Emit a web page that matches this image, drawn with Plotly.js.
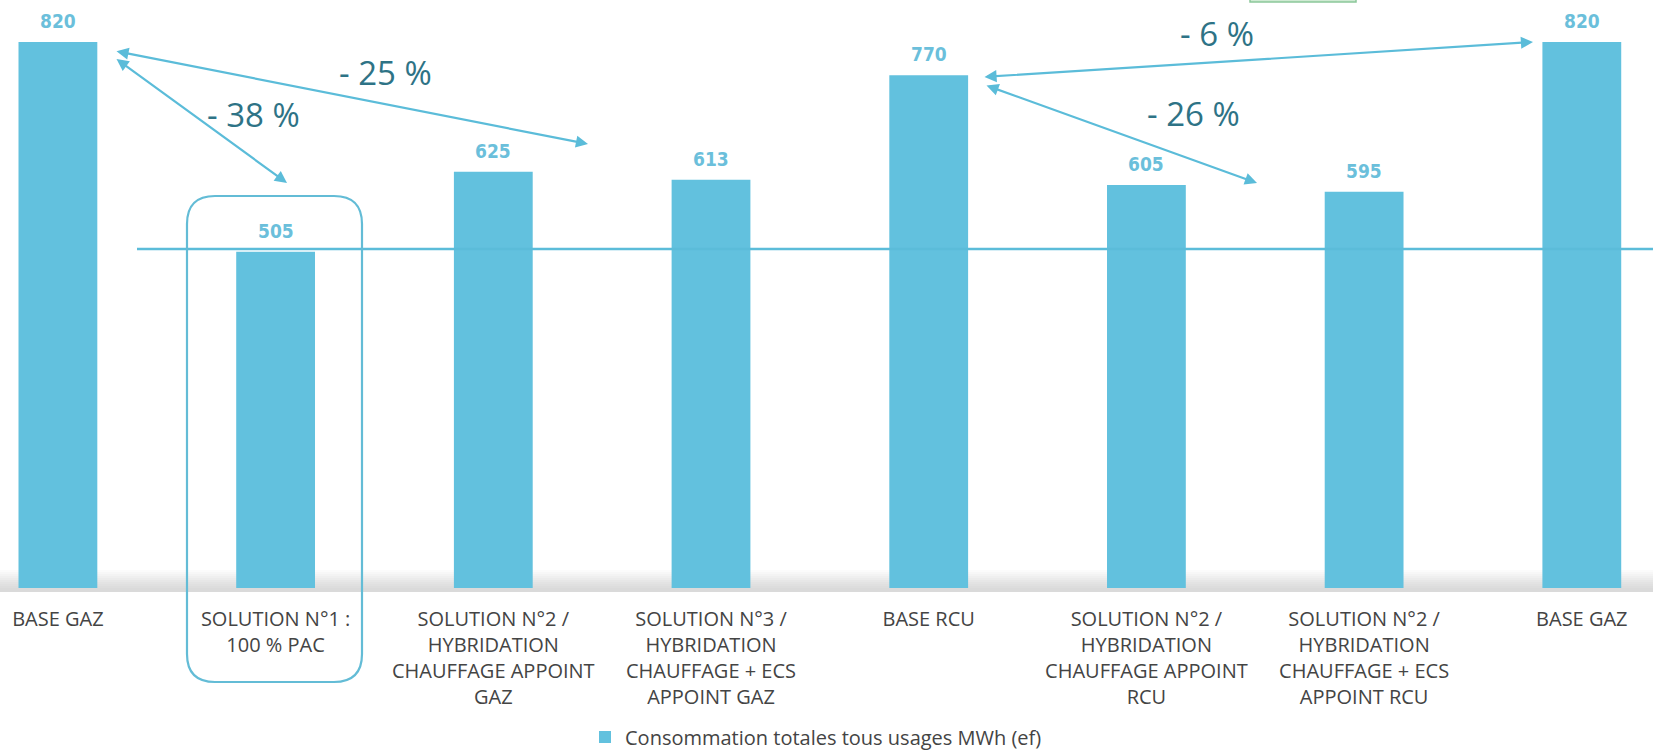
<!DOCTYPE html>
<html>
<head>
<meta charset="utf-8">
<script src="https://cdn.plot.ly/plotly-3.0.1.min.js"></script>
<style>html,body{margin:0;padding:0;background:#fff;}#chart{width:1653px;height:750px;}</style>
</head>
<body>
<div id="chart"></div>
<script>
// ---- data ----
const categories = [
  "BASE GAZ",
  "SOLUTION N°1 :<br>100 % PAC",
  "SOLUTION N°2 /<br>HYBRIDATION<br>CHAUFFAGE APPOINT<br>GAZ",
  "SOLUTION N°3 /<br>HYBRIDATION<br>CHAUFFAGE + ECS<br>APPOINT GAZ",
  "BASE RCU",
  "SOLUTION N°2 /<br>HYBRIDATION<br>CHAUFFAGE APPOINT<br>RCU",
  "SOLUTION N°2 /<br>HYBRIDATION<br>CHAUFFAGE + ECS<br>APPOINT RCU",
  "BASE GAZ"
];
const consumption = [820, 505, 625, 613, 770, 605, 595, 820];
const seriesName = "Consommation totales tous usages MWh (ef)";
const pctLabels = ["- 38 %", "- 25 %", "- 6 %", "- 26 %"];
const referenceLevel = 509;

// ---- geometry helpers (page pixels -> paper) ----
const W = 1653, PH = 588;
const px = v => v / W;
const py = v => 1 - v / PH;

const xIdx = categories.map((_, i) => i);

const barColor = "#62c1de";
const lineColor = "#5bbcd9";

const trace = {
  type: "bar",
  x: xIdx,
  y: consumption,
  name: seriesName,
  width: 0.362,
  marker: {color: barColor},
  hoverinfo: "x+y"
};

const annotations = [];
// value labels above bars
consumption.forEach((v, i) => {
  annotations.push({
    x: i, y: v, xref: "x", yref: "y",
    text: String(v), showarrow: false, yanchor: "middle", yshift: 21,
    font: {family: "DejaVu Sans Condensed, Liberation Sans Narrow, DejaVu Sans", size: 19, color: "#6bbfdb", weight: 700}
  });
});

// double-headed arrows [startX,startY,endX,endY] in page px
const arrows = [
  [115, 58, 287, 183],
  [115, 51, 588, 144],
  [983, 77, 1533, 42],
  [985, 85, 1257, 183]
];
arrows.forEach(a => {
  annotations.push({
    xref: "paper", yref: "paper", x: px(a[2]), y: py(a[3]),
    ax: a[0] - a[2], ay: a[1] - a[3], axref: "pixel", ayref: "pixel",
    text: "", showarrow: true, arrowside: "end+start",
    arrowhead: 2, startarrowhead: 2, arrowsize: 1.1, startarrowsize: 1.1, arrowwidth: 2.2,
    arrowcolor: lineColor, standoff: 0, startstandoff: 0
  });
});

// percentage labels (centre positions in page px)
const pctPos = [[253, 115], [385, 72], [1217, 33], [1193, 113]];
pctLabels.forEach((t, i) => {
  annotations.push({
    xref: "paper", yref: "paper", x: px(pctPos[i][0]), y: py(pctPos[i][1]),
    xanchor: "center", yanchor: "middle", text: t, showarrow: false,
    font: {family: "Open Sans, Noto Sans, sans-serif", size: 33, color: "#2e7386"}
  });
});

// rounded box around solution 1 (page px)
const bx0 = 187, bx1 = 362, by0 = 196, by1 = 682, r = 28;
const boxPath =
  `M ${px(bx0 + r)},${py(by0)} L ${px(bx1 - r)},${py(by0)} Q ${px(bx1)},${py(by0)} ${px(bx1)},${py(by0 + r)} ` +
  `L ${px(bx1)},${py(by1 - r)} Q ${px(bx1)},${py(by1)} ${px(bx1 - r)},${py(by1)} ` +
  `L ${px(bx0 + r)},${py(by1)} Q ${px(bx0)},${py(by1)} ${px(bx0)},${py(by1 - r)} ` +
  `L ${px(bx0)},${py(by0 + r)} Q ${px(bx0)},${py(by0)} ${px(bx0 + r)},${py(by0)} Z`;

const shapes = [];
// floor shadow gradient
const shadeSteps = 10;
for (let k = 0; k < shadeSteps; k++) {
  const top = 570 + k * 2;
  shapes.push({
    type: "rect", xref: "paper", yref: "paper", layer: "below",
    x0: 0, x1: 1, y0: py(top), y1: py(592),
    fillcolor: "rgba(150,150,150,0.035)", line: {width: 0}
  });
}
shapes.push({
  type: "line", xref: "paper", yref: "y", x0: px(137), x1: 1, y0: referenceLevel, y1: referenceLevel,
  line: {color: lineColor, width: 2.5}
});
shapes.push({
  type: "path", xref: "paper", yref: "paper", path: boxPath,
  line: {color: "#63bcd6", width: 2.2}
});
// small green tab at top
shapes.push({
  type: "rect", xref: "paper", yref: "paper", x0: px(1250), x1: px(1356), y0: py(2), y1: py(-4),
  fillcolor: "#cfead3", line: {color: "#8cc79a", width: 1.5}
});

const layout = {
  width: 1653, height: 750,
  margin: {l: 0, r: 0, t: 0, b: 162, pad: 0, autoexpand: false},
  paper_bgcolor: "#ffffff", plot_bgcolor: "rgba(0,0,0,0)",
  bargap: 0.64,
  xaxis: {
    range: [-0.266, 7.327], tickvals: xIdx, ticktext: categories,
    showgrid: false, zeroline: false, showline: false, ticks: "",
    automargin: false,
    ticklabelstandoff: 17,
    tickfont: {family: "Open Sans, Noto Sans, sans-serif", size: 20, color: "#444444"},
    fixedrange: true
  },
  yaxis: {range: [0, 883], visible: false, showgrid: false, zeroline: false, fixedrange: true, automargin: false},
  showlegend: true,
  legend: {
    orientation: "h", x: px(585), xanchor: "left", y: py(737), yanchor: "middle",
    font: {family: "Open Sans, Noto Sans, sans-serif", size: 20, color: "#444444"},
    bgcolor: "rgba(0,0,0,0)"
  },
  annotations: annotations,
  shapes: shapes
};

Plotly.newPlot("chart", [trace], layout, {displayModeBar: false, staticPlot: true});
</script>
</body>
</html>
